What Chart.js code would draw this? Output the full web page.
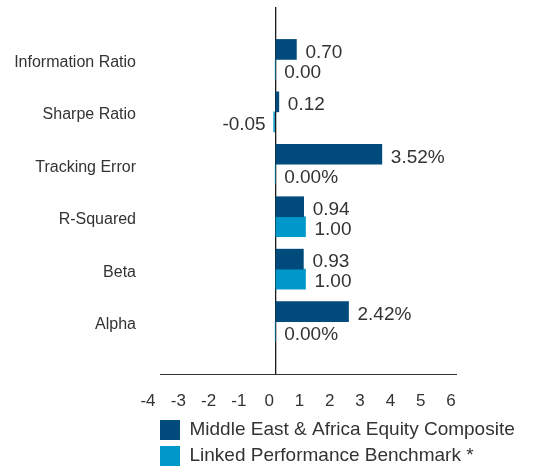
<!DOCTYPE html>
<html>
<head>
<meta charset="utf-8">
<script src="https://cdn.jsdelivr.net/npm/chart.js@4/dist/chart.umd.min.js"></script>
<style>
  html, body { margin: 0; padding: 0; background: #ffffff; }
  #wrap { width: 540px; height: 469px; position: relative; }
</style>
</head>
<body>
<div id="wrap"><canvas id="c" width="540" height="469"></canvas></div>
<script>
// ---- data ----
const categories = ['Information Ratio', 'Sharpe Ratio', 'Tracking Error', 'R-Squared', 'Beta', 'Alpha'];
const compositeValues = [0.70, 0.12, 3.52, 0.94, 0.93, 2.42];
const benchmarkValues = [0.00, -0.05, 0.00, 1.00, 1.00, 0.00];
const valueSuffix = ['', '', '%', '', '', '%'];
const seriesNames = ['Middle East & Africa Equity Composite', 'Linked Performance Benchmark *'];
const xTicks = [-4, -3, -2, -1, 0, 1, 2, 3, 4, 5, 6];

// pad the category axis with one empty slot at each end
const labels = [''].concat(categories, ['']);
const padData = arr => [null].concat(arr, [null]);
const suffixes = [''].concat(valueSuffix, ['']);

const TEXT = '#333333';
const FONT = "'Liberation Sans', Arial, sans-serif";

const valueLabels = {
  id: 'valueLabels',
  afterDatasetsDraw(chart) {
    const ctx = chart.ctx;
    ctx.save();
    ctx.font = '19px ' + FONT;
    ctx.fillStyle = TEXT;
    ctx.textBaseline = 'middle';
    chart.data.datasets.forEach((ds, di) => {
      const meta = chart.getDatasetMeta(di);
      meta.data.forEach((bar, i) => {
        const v = ds.data[i];
        if (v === null || v === undefined) return;
        const txt = v.toFixed(2) + suffixes[i];
        if (v < 0) {
          ctx.textAlign = 'right';
          ctx.fillText(txt, bar.x - 8, bar.y + 3);
        } else {
          ctx.textAlign = 'left';
          ctx.fillText(txt, bar.x + 9, bar.y + 3);
        }
      });
    });
    ctx.restore();
  }
};

// bottom axis line (starts slightly inside the plot's left edge, as in the original)
const axisLine = {
  id: 'axisLine',
  afterDraw(chart) {
    const a = chart.chartArea;
    const ctx = chart.ctx;
    ctx.save();
    ctx.strokeStyle = '#333333';
    ctx.lineWidth = 1;
    ctx.beginPath();
    ctx.moveTo(a.left + 6, Math.round(a.bottom) + 0.5);
    ctx.lineTo(a.right, Math.round(a.bottom) + 0.5);
    ctx.stroke();
    ctx.restore();
  }
};

// align the legend with the plot area's left edge
const legendShift = {
  id: 'legendShift',
  afterLayout(chart) {
    if (chart.legend) {
      chart.legend.left = chart.chartArea.left;
      chart.legend.right = chart.width;
      chart.legend.width = chart.legend.right - chart.legend.left;
    }
  }
};

new Chart(document.getElementById('c'), {
  type: 'bar',
  data: {
    labels: labels,
    datasets: [
      { label: seriesNames[0], data: padData(compositeValues), backgroundColor: '#004b7b', borderWidth: 0 },
      { label: seriesNames[1], data: padData(benchmarkValues), backgroundColor: '#0097cb', borderWidth: 0 }
    ]
  },
  options: {
    indexAxis: 'y',
    responsive: false,
    animation: false,
    events: [],
    barThickness: 20,
    layout: { padding: { top: 7, right: 83, bottom: -7, left: 0 } },
    scales: {
      x: {
        min: -4, max: 6,
        afterBuildTicks(scale) { scale.ticks = xTicks.map(v => ({ value: v })); },
        afterFit(scale) { scale.height = 40; scale.paddingLeft = 0; scale.paddingRight = 0; },
        grid: {
          drawTicks: false,
          color: c => (c.tick && c.tick.value === 0) ? '#1a1a1a' : 'rgba(0,0,0,0)',
          lineWidth: 1.3
        },
        border: { display: false },
        ticks: {
          color: TEXT,
          font: { family: FONT, size: 17 },
          padding: 17,
          labelOffset: -6,
          autoSkip: false,
          maxRotation: 0
        }
      },
      y: {
        offset: false,
        afterFit(scale) { scale.width = 154; scale.paddingTop = 0; scale.paddingBottom = 0; },
        grid: { display: false, drawTicks: false },
        border: { display: false },
        ticks: {
          color: TEXT,
          font: { family: FONT, size: 16 },
          padding: 18,
          labelOffset: 3,
          autoSkip: false
        }
      }
    },
    plugins: {
      tooltip: { enabled: false },
      legend: {
        position: 'bottom',
        align: 'start',
        labels: {
          boxWidth: 20,
          boxHeight: 20,
          padding: 6,
          color: TEXT,
          font: { family: FONT, size: 19 }
        }
      }
    }
  },
  plugins: [valueLabels, legendShift, axisLine]
});
</script>
</body>
</html>
